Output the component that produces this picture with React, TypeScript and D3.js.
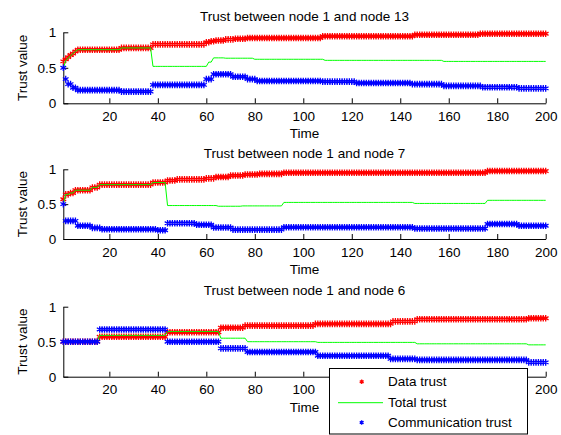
import { useRef, useEffect } from 'react'
import * as d3 from 'd3'

// [time where the value starts, value] -- every series is a step trace sampled at t = 1..200
type Step = [number, number]

const timeIndex = d3.range(1, 201)
const xTicks = [20, 40, 60, 80, 100, 120, 140, 160, 180, 200]
const yTicks = [0, 0.5, 1]
const panelTitles = [
  'Trust between node 1 and node 13',
  'Trust between node 1 and node 7',
  'Trust between node 1 and node 6'
]
const seriesNames = ['Data trust', 'Total trust', 'Communication trust']

const node13Data: Step[] = [[1, 0.59], [2, 0.62], [3, 0.65], [4, 0.68], [5, 0.7], [6, 0.73], [7, 0.755], [25, 0.78], [38, 0.83], [60, 0.86], [62, 0.875], [64, 0.885], [68, 0.9], [72, 0.91], [77, 0.92], [108, 0.945], [146, 0.965], [173, 0.98]]
const node13Total: Step[] = [[1, 0.5], [2, 0.6], [3, 0.64], [4, 0.67], [5, 0.7], [6, 0.73], [7, 0.755], [25, 0.78], [38, 0.52], [61, 0.58], [63, 0.64], [68, 0.635], [80, 0.62], [109, 0.605], [158, 0.59]]
const node13Comm: Step[] = [[1, 0.5], [2, 0.34], [3, 0.27], [5, 0.22], [7, 0.185], [25, 0.165], [38, 0.26], [60, 0.34], [63, 0.41], [71, 0.375], [77, 0.34], [81, 0.315], [108, 0.305], [122, 0.285], [145, 0.27], [158, 0.245], [174, 0.225], [189, 0.21]]

const node7Data: Step[] = [[1, 0.57], [2, 0.64], [4, 0.66], [6, 0.7], [13, 0.74], [16, 0.78], [38, 0.81], [44, 0.84], [48, 0.855], [60, 0.87], [64, 0.89], [70, 0.91], [76, 0.925], [82, 0.935], [92, 0.95], [176, 0.975]]
const node7Total: Step[] = [[1, 0.5], [2, 0.64], [4, 0.66], [6, 0.7], [13, 0.74], [16, 0.78], [38, 0.81], [44, 0.48], [65, 0.47], [75, 0.475], [92, 0.525], [146, 0.51], [176, 0.555]]
const node7Comm: Step[] = [[1, 0.5], [2, 0.26], [7, 0.19], [13, 0.16], [17, 0.14], [40, 0.125], [44, 0.225], [56, 0.205], [63, 0.165], [71, 0.135], [92, 0.168], [146, 0.15], [176, 0.215], [189, 0.19]]

const node6Data: Step[] = [[1, 0.5], [16, 0.57], [44, 0.635], [66, 0.7], [76, 0.73], [105, 0.755], [137, 0.79], [147, 0.82], [193, 0.835]]
const node6Total: Step[] = [[1, 0.5], [16, 0.59], [44, 0.645], [66, 0.55], [77, 0.5], [106, 0.49], [147, 0.47], [193, 0.455]]
const node6Comm: Step[] = [[1, 0.5], [16, 0.675], [44, 0.5], [66, 0.405], [77, 0.353], [106, 0.3], [136, 0.255], [147, 0.24], [193, 0.205]]

const panels = [
  { title: panelTitles[0], data: node13Data, total: node13Total, comm: node13Comm },
  { title: panelTitles[1], data: node7Data, total: node7Total, comm: node7Comm },
  { title: panelTitles[2], data: node6Data, total: node6Total, comm: node6Comm }
]

const FONT = 'Liberation Sans, Arial, Helvetica, sans-serif'

function sample(steps: Step[]): [number, number][] {
  return timeIndex.map(t => {
    let v = steps[0][1]
    for (const [s, val] of steps) if (s <= t) v = val
    return [t, v] as [number, number]
  })
}

function App() {
  const ref = useRef<HTMLDivElement>(null)

  useEffect(() => {
    if (!ref.current) return
    const container = ref.current
    container.innerHTML = ''

    const width = 561
    const height = 435
    const left = 63.3
    const right = 545.7
    const tops = [32.3, 169.3, 306.7]
    const bottoms = [103.3, 239, 376.7]
    const legendBox = { x: 329.5, y: 368.5, w: 198, h: 65.5 }

    const svg = d3.select(container)
      .append('svg')
      .attr('width', width)
      .attr('height', height)
      .style('position', 'absolute')
      .style('left', 0)
      .style('top', 0)
      .style('background', '#fff')
      .attr('font-family', FONT)

    const x = d3.scaleLinear().domain([1, 200]).range([left, right])
    const star = d3.symbol().type(d3.symbolAsterisk).size(30)

    panels.forEach((p, i) => {
      const y = d3.scaleLinear().domain([0, 1]).range([bottoms[i], tops[i]])
      const g = svg.append('g')

      // axes, ticks pointing inward
      const xAxis = g.append('g')
        .attr('transform', `translate(0,${bottoms[i]})`)
        .call(d3.axisBottom(x).tickValues(xTicks).tickSize(-5).tickSizeOuter(0).tickPadding(8).tickFormat(d => String(d)))
      const yAxis = g.append('g')
        .attr('transform', `translate(${left},0)`)
        .call(d3.axisLeft(y).tickValues(yTicks).tickSize(-5).tickSizeOuter(0).tickPadding(7).tickFormat(d => String(d)))
      for (const ax of [xAxis, yAxis]) {
        ax.attr('font-family', FONT).attr('font-size', 13.5)
        ax.selectAll('text').attr('fill', '#000')
        ax.selectAll('line,path').attr('stroke', '#000')
      }
      // the legend sits over the last panel's labels for 120..180
      if (i === panels.length - 1) {
        xAxis.selectAll<SVGGElement, number>('.tick')
          .filter(d => x(d) > legendBox.x - 10 && x(d) < legendBox.x + legendBox.w)
          .select('text').remove()
      }

      g.append('text')
        .attr('x', (left + right) / 2)
        .attr('y', tops[i] - 11.5)
        .attr('text-anchor', 'middle')
        .attr('font-size', 13.5)
        .text(p.title)

      g.append('text')
        .attr('x', (left + right) / 2)
        .attr('y', bottoms[i] + 34.8)
        .attr('text-anchor', 'middle')
        .attr('font-size', 13.5)
        .text('Time')

      g.append('text')
        .attr('transform', `translate(26.5,${(tops[i] + bottoms[i]) / 2}) rotate(-90)`)
        .attr('text-anchor', 'middle')
        .attr('font-size', 13.5)
        .text('Trust value')

      // data trust (red markers)
      g.append('g').selectAll('path')
        .data(sample(p.data))
        .enter()
        .append('path')
        .attr('d', star)
        .attr('transform', d => `translate(${x(d[0])},${y(d[1])})`)
        .attr('fill', 'none')
        .attr('stroke', '#ff0000')
        .attr('stroke-width', 1.3)

      // total trust (green line)
      g.append('path')
        .datum(sample(p.total))
        .attr('d', d3.line<[number, number]>().x(d => x(d[0])).y(d => y(d[1])))
        .attr('fill', 'none')
        .attr('stroke', '#00ff00')
        .attr('stroke-width', 1)

      // communication trust (blue markers)
      g.append('g').selectAll('path')
        .data(sample(p.comm))
        .enter()
        .append('path')
        .attr('d', star)
        .attr('transform', d => `translate(${x(d[0])},${y(d[1])})`)
        .attr('fill', 'none')
        .attr('stroke', '#0000ff')
        .attr('stroke-width', 1.3)
    })

    // legend
    const lg = svg.append('g')
    lg.append('rect')
      .attr('x', legendBox.x)
      .attr('y', legendBox.y)
      .attr('width', legendBox.w)
      .attr('height', legendBox.h)
      .attr('fill', '#fff')
      .attr('stroke', '#000')
    const rows = [381.7, 402.7, 422.5]
    const colors = ['#ff0000', '#00ff00', '#0000ff']
    const legendStar = d3.symbol().type(d3.symbolAsterisk).size(14)
    seriesNames.forEach((name, k) => {
      if (k === 1) {
        lg.append('line')
          .attr('x1', 338).attr('x2', 383)
          .attr('y1', rows[k]).attr('y2', rows[k])
          .attr('stroke', colors[k])
      } else {
        lg.append('path')
          .attr('d', legendStar)
          .attr('transform', `translate(361.7,${rows[k]})`)
          .attr('fill', 'none')
          .attr('stroke', colors[k])
          .attr('stroke-width', 1.3)
      }
      lg.append('text')
        .attr('x', 388)
        .attr('y', rows[k])
        .attr('dy', '0.35em')
        .attr('font-size', 13.5)
        .text(name)
    })
  }, [])

  return <div ref={ref} />
}

export default App
